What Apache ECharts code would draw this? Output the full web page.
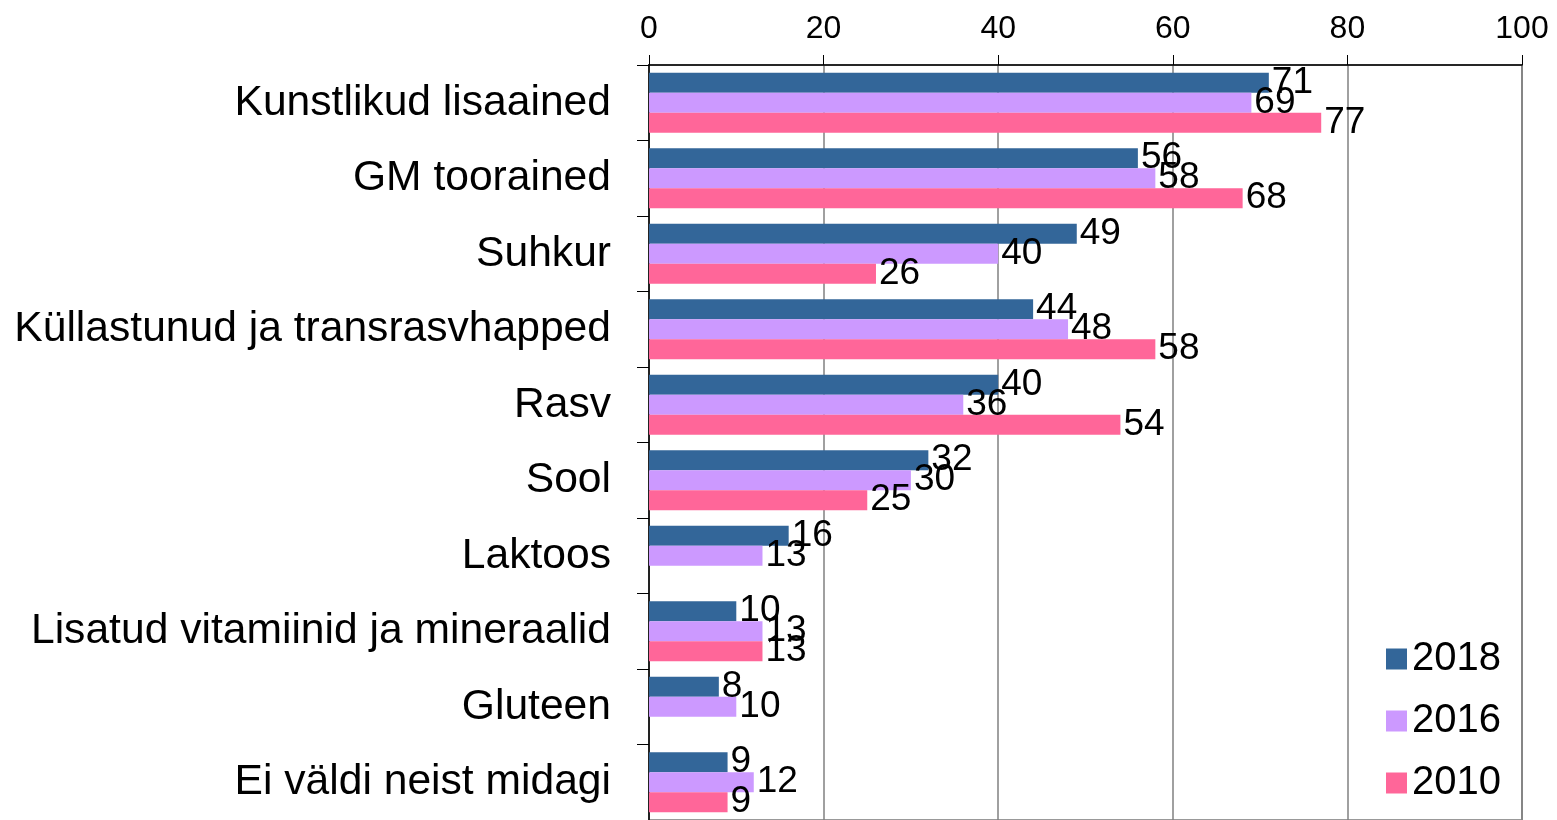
<!DOCTYPE html>
<html>
<head>
<meta charset="utf-8">
<script src="https://cdn.jsdelivr.net/npm/echarts@6/dist/echarts.min.js"></script>
<style>
    html, body { margin: 0; padding: 0; background: #fff; }
    #chart { width: 1557px; height: 820px; }
</style>
</head>
<body>
<div id="chart"></div>
<script>
// kategooriad ülevalt alla
var categories = ['Kunstlikud lisaained', 'GM toorained', 'Suhkur', 'Küllastunud ja transrasvhapped',
    'Rasv', 'Sool', 'Laktoos', 'Lisatud vitamiinid ja mineraalid', 'Gluteen', 'Ei väldi neist midagi'];
var xTicks = [0, 20, 40, 60, 80, 100];
var v2018 = [71, 56, 49, 44, 40, 32, 16, 10, 8, 9];
var v2016 = [69, 58, 40, 48, 36, 30, 13, 13, 10, 12];
var v2010 = [77, 68, 26, 58, 54, 25, null, 13, null, 9];

var myChart = echarts.init(document.getElementById('chart'));

var font = '"Liberation Sans", Arial, sans-serif';

function bar(name, data, color) {
    return {
        name: name,
        type: 'bar',
        data: data,
        barWidth: 20,
        barGap: '0%',
        itemStyle: { color: color },
        label: {
            show: true,
            position: 'right',
            distance: 3,
            color: '#000',
            fontSize: 37,
            fontFamily: font
        }
    };
}

var option = {
    animation: false,
    textStyle: { fontFamily: font },
    grid: {
        left: 649, right: 35, top: 65, bottom: 0,
        show: true,
        borderColor: '#999',
        borderWidth: 2
    },
    legend: {
        orient: 'vertical',
        left: 1381,
        top: 634,
        itemWidth: 21,
        itemHeight: 21,
        itemGap: 22,
        icon: 'rect',
        textStyle: { fontSize: 40, color: '#000', fontFamily: font },
        data: ['2018', '2016', '2010']
    },
    xAxis: {
        type: 'value',
        position: 'top',
        min: xTicks[0],
        max: xTicks[xTicks.length - 1],
        interval: 20,
        axisLine: { show: true, lineStyle: { color: '#000', width: 1.5 } },
        axisTick: { show: true, length: 10, lineStyle: { color: '#000' } },
        axisLabel: { fontSize: 32, color: '#000', margin: 20, fontFamily: font },
        splitLine: { show: true, lineStyle: { color: '#808080', width: 1.5 } }
    },
    yAxis: {
        type: 'category',
        inverse: true,
        data: categories,
        axisLine: { show: true, lineStyle: { color: '#000', width: 1.5 } },
        axisTick: { show: true, length: 12, lineStyle: { color: '#000' } },
        axisLabel: { fontSize: 42.6, color: '#000', margin: 38, fontFamily: font }
    },
    series: [
        bar('2018', v2018, '#336699'),
        bar('2016', v2016, '#CC99FF'),
        bar('2010', v2010, '#FF6699')
    ]
};

myChart.setOption(option);
</script>
</body>
</html>
